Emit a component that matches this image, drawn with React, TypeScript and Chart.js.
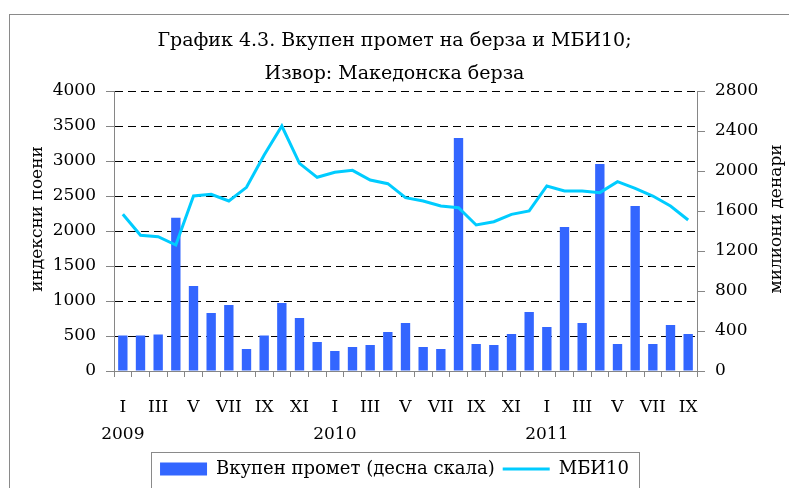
import React, { useEffect, useRef } from "react";
import { Chart, registerables } from "chart.js";

Chart.register(...registerables);

const titleLines = ["График 4.3. Вкупен промет на берза и МБИ10;", "Извор: Македонска берза"];
const leftAxisTitle = "индексни поени";
const rightAxisTitle = "милиони денари";
const barLabel = "Вкупен промет (десна скала)";
const lineLabel = "МБИ10";

const categories = [
  "2009-01", "2009-02", "2009-03", "2009-04", "2009-05", "2009-06", "2009-07", "2009-08", "2009-09", "2009-10", "2009-11", "2009-12",
  "2010-01", "2010-02", "2010-03", "2010-04", "2010-05", "2010-06", "2010-07", "2010-08", "2010-09", "2010-10", "2010-11", "2010-12",
  "2011-01", "2011-02", "2011-03", "2011-04", "2011-05", "2011-06", "2011-07", "2011-08", "2011-09",
];
const tickMonths = [
  "I", "", "III", "", "V", "", "VII", "", "IX", "", "XI", "",
  "I", "", "III", "", "V", "", "VII", "", "IX", "", "XI", "",
  "I", "", "III", "", "V", "", "VII", "", "IX",
];
const tickYears = [
  "2009", "", "", "", "", "", "", "", "", "", "", "",
  "2010", "", "", "", "", "", "", "", "", "", "", "",
  "2011", "", "", "", "", "", "", "", "",
];

// Вкупен промет (милиони денари, десна скала)
const turnover = [
  355, 355, 365, 1533, 850, 580, 660, 220, 355, 680, 530, 290,
  200, 240, 260, 390, 480, 240, 220, 2330, 270, 260, 370, 590,
  440, 1440, 480, 2070, 270, 1650, 270, 460, 370,
];
// МБИ10 (индексни поени, лева скала)
const mbi10 = [
  2240, 1939, 1919, 1800, 2500, 2524, 2429, 2624, 3086, 3500, 2967, 2767,
  2838, 2867, 2729, 2676, 2476, 2429, 2357, 2333, 2086, 2133, 2238, 2286,
  2643, 2571, 2571, 2548, 2705, 2610, 2500, 2357, 2157,
];

const leftMin = 0, leftMax = 4000, leftStep = 500;
const rightMin = 0, rightMax = 2800, rightStep = 400;

const BAR = "#3366FF";
const LINE = "#00CCFF";
const AXIS = "#868686";
const FONT = "'DejaVu Serif', serif";

const framePlugin = {
  id: "frame",
  beforeDraw(chart: any) {
    const ctx = chart.ctx;
    ctx.save();
    ctx.strokeStyle = "#8a8a8a";
    ctx.lineWidth = 1;
    ctx.strokeRect(9.5, 14.5, chart.width + 20, chart.height + 20);
    ctx.restore();
  },
  afterDraw(chart: any) {
    const ctx = chart.ctx;
    const ca = chart.chartArea;
    const cy = (ca.top + ca.bottom) / 2 - 12;
    ctx.save();
    ctx.fillStyle = "#000";
    ctx.font = "17px " + FONT;
    ctx.textAlign = "center";
    ctx.textBaseline = "middle";
    ctx.translate(chart.scales.y.left + 38, cy);
    ctx.rotate(-Math.PI / 2);
    ctx.fillText(leftAxisTitle, 0, 0);
    ctx.restore();
    ctx.save();
    ctx.fillStyle = "#000";
    ctx.font = "17px " + FONT;
    ctx.textAlign = "center";
    ctx.textBaseline = "middle";
    ctx.translate(chart.scales.y1.right - 12, cy);
    ctx.rotate(-Math.PI / 2);
    ctx.fillText(rightAxisTitle, 0, 0);
    ctx.restore();
    // legend border
    const lg = chart.legend;
    if (lg && lg.legendHitBoxes && lg.legendHitBoxes.length) {
      const hb = lg.legendHitBoxes;
      let l = Infinity, r = -Infinity;
      hb.forEach((h: any) => { l = Math.min(l, h.left); r = Math.max(r, h.left + h.width); });
      ctx.save();
      ctx.strokeStyle = "#8a8a8a";
      ctx.lineWidth = 1;
      ctx.strokeRect(Math.round(l - 9) + 0.5, Math.round(lg.top) + 0.5, Math.round(r - l + 19), lg.height + 10);
      ctx.restore();
    }
  },
};

export default function App() {
  const ref = useRef<HTMLCanvasElement>(null);
  useEffect(() => {
    if (!ref.current) return;
    const chart = new Chart(ref.current, {
      type: "bar",
      data: {
        labels: categories,
        datasets: [
          {
            type: "line",
            label: lineLabel,
            data: mbi10,
            yAxisID: "y",
            borderColor: LINE,
            backgroundColor: LINE,
            borderWidth: 3,
            pointRadius: 0,
            tension: 0,
          } as any,
          {
            type: "bar",
            label: barLabel,
            data: turnover,
            yAxisID: "y1",
            backgroundColor: BAR,
            borderWidth: 0,
            barPercentage: 0.53,
            categoryPercentage: 1,
          },
        ],
      },
      plugins: [framePlugin],
      options: {
        animation: false,
        responsive: false,
        maintainAspectRatio: false,
        layout: { padding: 0 },
        plugins: {
          tooltip: { enabled: false },
          title: {
            display: true,
            text: titleLines,
            color: "#000",
            font: { family: FONT, size: 19, weight: "normal", lineHeight: "33px" } as any,
            padding: { top: 25, bottom: 0 },
          },
          legend: {
            display: true,
            position: "bottom",
            reverse: true,
            labels: {
              color: "#000",
              font: { family: FONT, size: 18 },
              padding: 8,
              usePointStyle: true,
              pointStyleWidth: 47,
              boxHeight: 13,
              generateLabels: (c: any) => {
                const items = (Chart.defaults as any).plugins.legend.labels.generateLabels(c);
                items.forEach((it: any) => {
                  if (it.text === barLabel) {
                    it.pointStyle = "rect";
                    it.fillStyle = BAR;
                    it.strokeStyle = BAR;
                    it.lineWidth = 0;
                  } else {
                    it.pointStyle = "line";
                    it.strokeStyle = LINE;
                    it.fillStyle = LINE;
                    it.lineWidth = 3;
                  }
                });
                return items;
              },
            },
          },
        },
        scales: {
          x: {
            type: "category",
            offset: true,
            grid: {
              display: true,
              drawOnChartArea: false,
              offset: true,
              tickLength: 6,
              tickColor: AXIS,
            },
            border: { color: AXIS, width: 1 },
            ticks: {
              autoSkip: false,
              maxRotation: 0,
              minRotation: 0,
              padding: 17,
              color: "#000",
              font: { family: FONT, size: 17, lineHeight: "27px" } as any,
              callback: (_v: any, i: number) => [tickMonths[i], tickYears[i]],
            },
            afterFit: (s: any) => { s.height = 81; },
          },
          y: {
            type: "linear",
            position: "left",
            min: leftMin,
            max: leftMax,
            grid: {
              color: "#000",
              lineWidth: 1,
              tickLength: 8,
              tickColor: AXIS,
              tickBorderDash: [],
            },
            border: { color: AXIS, width: 1, dash: [8, 5] },
            ticks: {
              stepSize: leftStep,
              padding: 10,
              color: "#000",
              font: { family: FONT, size: 17 },
              callback: (v: any) => String(v),
            },
            afterFit: (s: any) => { s.width = 114; },
          },
          y1: {
            type: "linear",
            position: "right",
            min: rightMin,
            max: rightMax,
            grid: {
              drawOnChartArea: false,
              tickLength: 8,
              tickColor: AXIS,
            },
            border: { color: AXIS, width: 1 },
            ticks: {
              stepSize: rightStep,
              padding: 10,
              color: "#000",
              font: { family: FONT, size: 17 },
              callback: (v: any) => String(v),
            },
            afterFit: (s: any) => { s.width = 92; },
          },
        },
      } as any,
    });
    return () => chart.destroy();
  }, []);
  return (
    <div style={{ position: "fixed", left: 0, top: 0, width: 789, height: 488, background: "#fff" }}>
      <canvas ref={ref} width={789} height={488} style={{ width: 789, height: 488, display: "block" }} />
    </div>
  );
}
